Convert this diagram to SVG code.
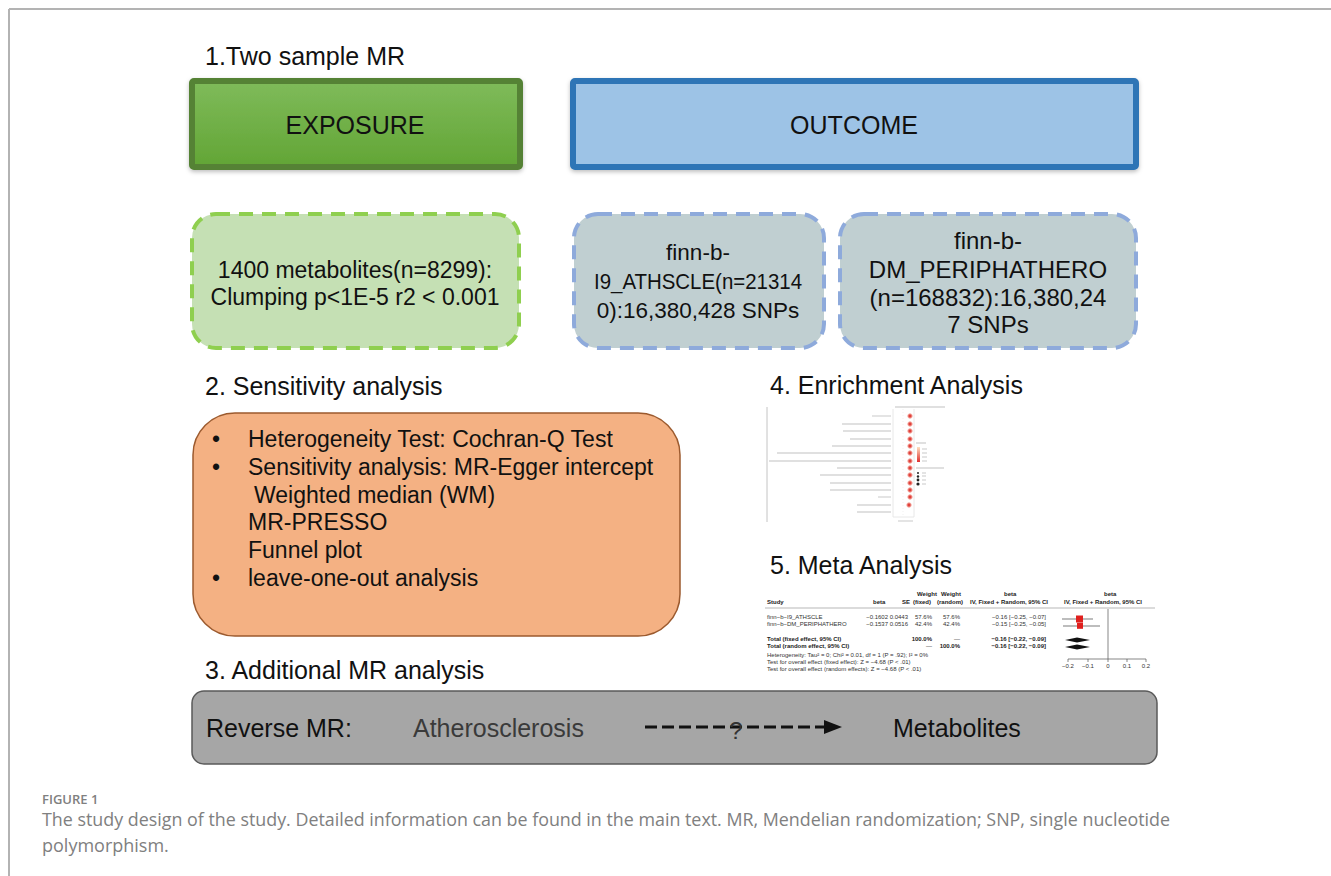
<svg xmlns="http://www.w3.org/2000/svg" width="1331" height="876" viewBox="0 0 1331 876">
<defs>
<style>
text{font-family:"Liberation Sans",Arial,sans-serif;fill:#111}
.h{font-size:25px}
.b{font-size:23px}
.c{text-anchor:middle}
.t{font-size:6px;fill:#333}
.tb{font-size:6px;fill:#222;font-weight:bold}
.cap{font-family:"Open Sans","Liberation Sans",sans-serif;fill:#808080}
.lbl{stroke:#d6d6d6;stroke-width:1.3}
</style>
<linearGradient id="gGreen" x1="0" y1="0" x2="0" y2="1">
<stop offset="0" stop-color="#7fbb5a"/>
<stop offset="1" stop-color="#62a535"/>
</linearGradient>
<linearGradient id="gP" x1="0" y1="0" x2="0" y2="1">
<stop offset="0" stop-color="#fde0c0"/>
<stop offset="1" stop-color="#e03030"/>
</linearGradient>
<filter id="sh" x="-5%" y="-10%" width="110%" height="125%">
<feDropShadow dx="0" dy="2" stdDeviation="2" flood-color="#000" flood-opacity="0.25"/>
</filter>
</defs>

<rect width="1331" height="876" fill="#fff"/>
<g id="frame" stroke="#b3b3b3" stroke-width="2" fill="none">
<line x1="9" y1="9" x2="1331" y2="9"/>
<line x1="9" y1="9" x2="9" y2="876"/>
</g>

<g id="headings">
<text class="h" x="205" y="65">1.Two sample MR</text>
<text class="h" x="205" y="395">2. Sensitivity analysis</text>
<text class="h" x="205" y="679">3. Additional MR analysis</text>
<text class="h" x="770" y="394">4. Enrichment Analysis</text>
<text class="h" x="770" y="574">5. Meta Analysis</text>
</g>

<g id="exposure">
<rect x="192" y="81" width="328" height="86" rx="2" fill="url(#gGreen)" stroke="#548235" stroke-width="6" filter="url(#sh)"/>
<text class="h c" x="355" y="134">EXPOSURE</text>
</g>

<g id="outcome">
<rect x="573" y="81" width="563" height="86" rx="2" fill="#9dc3e6" stroke="#2e75b6" stroke-width="6" filter="url(#sh)"/>
<text class="h c" x="854" y="134">OUTCOME</text>
</g>

<g id="metabolites">
<rect x="192" y="214" width="327" height="134" rx="24" fill="#c5e0b4" stroke="#8fcf4f" stroke-width="4" stroke-dasharray="14 9"/>
<text class="b c" x="355" y="278">1400 metabolites(n=8299):</text>
<text class="b c" x="355" y="305">Clumping p&lt;1E-5 r2 &lt; 0.001</text>
</g>

<g id="athscle">
<rect x="574" y="214" width="250" height="134" rx="24" fill="#c0cfd1" stroke="#8eaadb" stroke-width="4" stroke-dasharray="14 9"/>
<text class="c" style="font-size:22.5px" x="698" y="260">finn-b-</text>
<text class="c" style="font-size:22.5px" x="698" y="289" textLength="208" lengthAdjust="spacingAndGlyphs">I9_ATHSCLE(n=21314</text>
<text class="c" style="font-size:22.5px" x="698" y="318">0):16,380,428 SNPs</text>
</g>

<g id="peripathero">
<rect x="840" y="214" width="296" height="134" rx="24" fill="#c0cfd1" stroke="#8eaadb" stroke-width="4" stroke-dasharray="14 9"/>
<text class="c" style="font-size:24px" x="988" y="249">finn-b-</text>
<text class="c" style="font-size:24px" x="988" y="278">DM_PERIPHATHERO</text>
<text class="c" style="font-size:24px" x="988" y="306">(n=168832):16,380,24</text>
<text class="c" style="font-size:24px" x="988" y="333">7 SNPs</text>
</g>

<g id="sensitivity">
<rect x="193" y="413" width="487" height="223" rx="42" fill="#f4b183" stroke="#9c5a2e" stroke-width="1.5"/>
<text class="b" x="212" y="447">•</text>
<text class="b" x="248" y="447">Heterogeneity Test: Cochran-Q Test</text>
<text class="b" x="212" y="475">•</text>
<text class="b" x="248" y="475">Sensitivity analysis: MR-Egger intercept</text>
<text class="b" x="254" y="503">Weighted median (WM)</text>
<text class="b" x="248" y="530">MR-PRESSO</text>
<text class="b" x="248" y="558">Funnel plot</text>
<text class="b" x="212" y="586">•</text>
<text class="b" x="248" y="586">leave-one-out analysis</text>
</g>

<g id="enrichment">
<line x1="767" y1="407" x2="767" y2="522" stroke="#c4c4c4" stroke-width="1"/>
<line x1="893" y1="409" x2="893" y2="517" stroke="#e2e2e2" stroke-width="0.8"/>
<line x1="914" y1="409" x2="914" y2="517" stroke="#e2e2e2" stroke-width="0.8"/>
<line x1="903" y1="409" x2="903" y2="517" stroke="#eee" stroke-width="0.8" stroke-dasharray="1 2"/>
<line x1="893" y1="517" x2="914" y2="517" stroke="#e2e2e2" stroke-width="0.8"/>
<line x1="895" y1="407" x2="945" y2="407" stroke="#d6d6d6" stroke-width="1.5"/>
<g class="lbl">
<line x1="872" y1="416" x2="891" y2="416"/>
<line x1="842" y1="424" x2="891" y2="424"/>
<line x1="843" y1="431" x2="891" y2="431"/>
<line x1="850" y1="439" x2="891" y2="439"/>
<line x1="832" y1="446" x2="891" y2="446"/>
<line x1="777" y1="453" x2="891" y2="453"/>
<line x1="769" y1="461" x2="891" y2="461"/>
<line x1="837" y1="468" x2="891" y2="468"/>
<line x1="820" y1="475" x2="891" y2="475"/>
<line x1="830" y1="483" x2="891" y2="483"/>
<line x1="830" y1="490" x2="891" y2="490"/>
<line x1="878" y1="497" x2="891" y2="497"/>
<line x1="857" y1="505" x2="891" y2="505"/>
<line x1="857" y1="512" x2="891" y2="512"/>
<line x1="898" y1="521" x2="913" y2="521"/>
</g>
<g fill="#e0403a" stroke="#f6b0a8" stroke-width="1">
<circle cx="910" cy="416" r="2.2"/>
<circle cx="910" cy="424" r="2.2"/>
<circle cx="910" cy="431" r="2.2"/>
<circle cx="910" cy="439" r="2.2"/>
<circle cx="910" cy="446" r="2.2"/>
<circle cx="910" cy="453" r="2.2"/>
<circle cx="910" cy="461" r="2.2"/>
<circle cx="910" cy="468" r="2.2"/>
<circle cx="910" cy="475" r="2.2"/>
<circle cx="910" cy="483" r="2.2"/>
<circle cx="910" cy="490" r="2.2"/>
<circle cx="910" cy="497" r="2.2"/>
<circle cx="909" cy="505" r="2.2"/>
</g>
<line x1="916" y1="443" x2="926" y2="443" stroke="#d6d6d6" stroke-width="1.5"/>
<rect x="917" y="447" width="3" height="15" fill="url(#gP)"/>
<g class="lbl" stroke-width="1">
<line x1="922" y1="449" x2="927" y2="449"/>
<line x1="922" y1="453" x2="927" y2="453"/>
<line x1="922" y1="457" x2="927" y2="457"/>
<line x1="922" y1="461" x2="927" y2="461"/>
<line x1="916" y1="468" x2="944" y2="468" stroke-width="1.5"/>
<line x1="922" y1="473" x2="926" y2="473"/>
<line x1="922" y1="476" x2="926" y2="476"/>
<line x1="922" y1="480" x2="926" y2="480"/>
<line x1="922" y1="484" x2="926" y2="484"/>
</g>
<g fill="#222">
<circle cx="918" cy="473" r="1"/>
<circle cx="918" cy="476.5" r="1.2"/>
<circle cx="918" cy="480" r="1.4"/>
<circle cx="918" cy="484" r="1.6"/>
</g>
</g>

<g id="meta">
<text class="tb" x="917" y="596">Weight</text>
<text class="tb" x="941" y="596">Weight</text>
<text class="tb" x="1004" y="596">beta</text>
<text class="tb" x="1104" y="596">beta</text>
<text class="tb" x="767" y="604">Study</text>
<text class="tb" x="873" y="604">beta</text>
<text class="tb" x="902" y="604">SE</text>
<text class="tb" x="913" y="604">(fixed)</text>
<text class="tb" x="937" y="604">(random)</text>
<text class="tb" x="970" y="604">IV, Fixed + Random, 95% CI</text>
<text class="tb" x="1064" y="604">IV, Fixed + Random, 95% CI</text>
<line x1="765" y1="608" x2="1155" y2="608" stroke="#888" stroke-width="0.6"/>
<text class="t" x="767" y="619">finn−b−I9_ATHSCLE</text>
<text class="t" x="767" y="626">finn−b−DM_PERIPHATHERO</text>
<text class="t" x="888" y="619" text-anchor="end">−0.1602</text>
<text class="t" x="908" y="619" text-anchor="end">0.0443</text>
<text class="t" x="932" y="619" text-anchor="end">57.6%</text>
<text class="t" x="960" y="619" text-anchor="end">57.6%</text>
<text class="t" x="1046" y="619" text-anchor="end">−0.16 [−0.25, −0.07]</text>
<text class="t" x="888" y="626" text-anchor="end">−0.1537</text>
<text class="t" x="908" y="626" text-anchor="end">0.0516</text>
<text class="t" x="932" y="626" text-anchor="end">42.4%</text>
<text class="t" x="960" y="626" text-anchor="end">42.4%</text>
<text class="t" x="1046" y="626" text-anchor="end">−0.15 [−0.25, −0.05]</text>
<text class="tb" x="767" y="641">Total (fixed effect, 95% CI)</text>
<text class="tb" x="767" y="648">Total (random effect, 95% CI)</text>
<text class="tb" x="932" y="641" text-anchor="end">100.0%</text>
<text class="t" x="960" y="641" text-anchor="end">—</text>
<text class="tb" x="1046" y="641" text-anchor="end">−0.16 [−0.22, −0.09]</text>
<text class="t" x="932" y="648" text-anchor="end">—</text>
<text class="tb" x="960" y="648" text-anchor="end">100.0%</text>
<text class="tb" x="1046" y="648" text-anchor="end">−0.16 [−0.22, −0.09]</text>
<text class="t" x="767" y="657">Heterogeneity: Tau² = 0; Chi² = 0.01, df = 1 (P = .92); I² = 0%</text>
<text class="t" x="767" y="664">Test for overall effect (fixed effect): Z = −4.68 (P &lt; .01)</text>
<text class="t" x="767" y="671">Test for overall effect (random effects): Z = −4.68 (P &lt; .01)</text>
<line x1="1108" y1="609" x2="1108" y2="659" stroke="#555" stroke-width="0.7"/>
<line x1="1062" y1="619" x2="1093" y2="619" stroke="#444" stroke-width="0.7"/>
<line x1="1063" y1="626" x2="1100" y2="626" stroke="#444" stroke-width="0.7"/>
<rect x="1076" y="615.5" width="7" height="7" fill="#e0201e"/>
<rect x="1077" y="622.8" width="6" height="6" fill="#e0201e"/>
<path d="M1065,640 L1077,637.5 L1090,640 L1077,642.5 z" fill="#111"/>
<path d="M1065,647 L1077,644.5 L1090,647 L1077,649.5 z" fill="#111"/>
<line x1="1068" y1="659" x2="1146" y2="659" stroke="#555" stroke-width="0.7"/>
<g stroke="#555" stroke-width="0.7">
<line x1="1068" y1="659" x2="1068" y2="662"/>
<line x1="1088" y1="659" x2="1088" y2="662"/>
<line x1="1108" y1="659" x2="1108" y2="662"/>
<line x1="1127" y1="659" x2="1127" y2="662"/>
<line x1="1146" y1="659" x2="1146" y2="662"/>
</g>
<text class="t c" x="1068" y="668">−0.2</text>
<text class="t c" x="1088" y="668">−0.1</text>
<text class="t c" x="1108" y="668">0</text>
<text class="t c" x="1127" y="668">0.1</text>
<text class="t c" x="1146" y="668">0.2</text>
</g>

<g id="reverse-mr">
<rect x="192" y="691" width="965" height="73" rx="12" fill="#a6a6a6" stroke="#5a5a5a" stroke-width="1.5"/>
<text class="h" x="206" y="737">Reverse MR:</text>
<text class="h" x="413" y="737" style="fill:#3a3a3a">Atherosclerosis</text>
<text class="h" x="893" y="737">Metabolites</text>
</g>

<g id="connectors">
<line x1="645" y1="727" x2="826" y2="727" stroke="#111" stroke-width="3.2" stroke-dasharray="12 5"/>
<path d="M824,720 L842,727 L824,734 z" fill="#111"/>
<text x="736" y="739" text-anchor="middle" style="font-size:24px;fill:#333">?</text>
</g>

<g id="caption">
<text class="cap" x="42" y="804" style="font-size:13px;font-weight:600">FIGURE 1</text>
<text class="cap" x="42" y="826" style="font-size:18px" textLength="1128" lengthAdjust="spacingAndGlyphs">The study design of the study. Detailed information can be found in the main text. MR, Mendelian randomization; SNP, single nucleotide</text>
<text class="cap" x="42" y="852" style="font-size:18px">polymorphism.</text>
</g>
</svg>
